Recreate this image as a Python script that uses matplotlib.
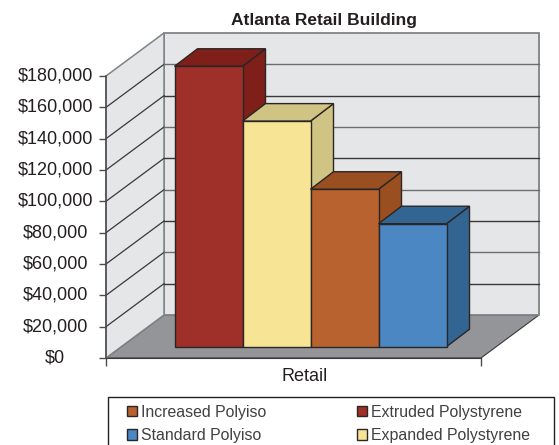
import matplotlib
matplotlib.use("Agg")
import matplotlib.pyplot as plt
from matplotlib.patches import Polygon, Patch, Rectangle
from matplotlib.transforms import ScaledTranslation

plt.rcParams['font.family'] = ['Liberation Sans', 'DejaVu Sans']

# values
series = ['Extruded Polystyrene', 'Expanded Polystyrene', 'Increased Polyiso', 'Standard Polyiso']
values = [179000, 144000, 100500, 78500]
front_colors = ['#9E2F29', '#F7E595', '#B8632F', '#4A87C3']
side_colors = ['#7E1F1A', '#CFC483', '#9A4F20', '#336593']
tick_values = list(range(0, 200000, 20000))
tick_labels = ['$' + format(v, ',') for v in tick_values]
category = 'Retail'

W, H = 559, 445
fig = plt.figure(figsize=(W / 100, H / 100), dpi=100)
# axes sits on the front plane of the 3d box
ax = fig.add_axes([106 / W, 1 - 358 / H, 375 / W, 282 / H])
ax.set_xlim(0, 375)
ax.set_ylim(0, 180000)
ax.patch.set_alpha(0)

unit = 180000 / 282  # value per pixel
wall_dx, wall_dy = 58, 43 * unit
bar_dx, bar_dy = 23, 17.5 * unit
bar_x0, bar_w = 68.5, 68
bar_base = 11.3 * unit

wall_col = '#E5E6E8'
edge_col = '#808285'
dark = '#3A3839'
top = 180000

# floor and walls
ax.add_patch(Polygon([(0, 0), (375, 0), (375 + wall_dx, wall_dy), (wall_dx, wall_dy)],
                     fc='#939598', ec='#3A3839', lw=0.8, clip_on=False, zorder=1))
ax.add_patch(Polygon([(wall_dx, wall_dy), (375 + wall_dx, wall_dy), (375 + wall_dx, top + wall_dy), (wall_dx, top + wall_dy)],
                     fc=wall_col, ec=edge_col, lw=1.3, clip_on=False, zorder=1))
ax.add_patch(Polygon([(0, 0), (wall_dx, wall_dy), (wall_dx, top + wall_dy), (0, top)],
                     fc=wall_col, ec=edge_col, lw=1.1, clip_on=False, zorder=1))

# gridlines on both walls, every other one on the back wall prints lighter
for i, v in enumerate(tick_values[1:-1]):
    ax.plot([0, wall_dx], [v, v + wall_dy], color=dark, lw=0.9, clip_on=False, zorder=2)
    back_col = '#6D6E71' if i % 2 == 1 else dark
    ax.plot([wall_dx, 375 + wall_dx], [v + wall_dy, v + wall_dy], color=back_col, lw=1,
            clip_on=False, zorder=2)

# bars
for i, (val, fc, sc) in enumerate(zip(values, front_colors, side_colors)):
    x0 = bar_x0 + i * bar_w
    x1 = x0 + bar_w
    y0 = bar_base
    y1 = val + bar_base
    ec = '#2B2526'
    ax.add_patch(Polygon([(x1, y0), (x1 + bar_dx, y0 + bar_dy), (x1 + bar_dx, y1 + bar_dy), (x1, y1)],
                         fc=sc, ec=ec, lw=1, clip_on=False, zorder=3 + i))
    ax.add_patch(Polygon([(x0, y1), (x1, y1), (x1 + bar_dx, y1 + bar_dy), (x0 + bar_dx, y1 + bar_dy)],
                         fc=sc, ec=ec, lw=1, clip_on=False, zorder=3 + i))
    ax.add_patch(Polygon([(x0, y0), (x1, y0), (x1, y1), (x0, y1)],
                         fc=fc, ec=ec, lw=1, clip_on=False, zorder=3 + i))

# axes
for s in ['top', 'right']:
    ax.spines[s].set_visible(False)
ax.spines['left'].set_color('#4D4D4F')
ax.spines['left'].set_linewidth(1.1)
ax.spines['bottom'].set_color(dark)
ax.spines['bottom'].set_zorder(2)
ax.set_yticks(tick_values)
ax.set_yticklabels(tick_labels, fontsize=13, color='#231F20', ha='center')
ax.tick_params(axis='y', length=5, width=1, color='#4D4D4F', pad=31.5)
# labels are centred on each other and sit a bit above the ticks
for lab in ax.get_yticklabels():
    lab.set_transform(lab.get_transform() + ScaledTranslation(0, 2 / 100, fig.dpi_scale_trans))
ax.set_xticks([0, 375])
ax.set_xticklabels(['', ''])
ax.set_xticks([199], minor=True)
ax.set_xticklabels([category], minor=True, fontsize=13, color='#231F20')
ax.tick_params(axis='x', which='major', length=6, width=1, color='#4D4D4F')
ax.tick_params(axis='x', which='minor', length=0, pad=7)

fig.text(324 / W, 1 - 20 / H, 'Atlanta Retail Building', fontsize=12.5, fontweight='bold',
         color='#231F20', ha='center', va='center')

# legend box runs off the bottom of the picture
fig.add_artist(Rectangle((108 / W, -0.02), 446 / W, 1 - 397.5 / H + 0.02, transform=fig.transFigure,
                         fc='white', ec='#231F20', lw=1))
legend_order = [2, 3, 0, 1]
handles = [Patch(fc=front_colors[i], ec='#2B2526', lw=1) for i in legend_order]
labels = [series[i] for i in legend_order]
leg = fig.legend(handles, labels, ncol=2, loc='upper left',
                 bbox_to_anchor=(127 / W, 1 - 404.5 / H), fontsize=11.4,
                 handlelength=0.65, handleheight=0.65, handletextpad=0.25,
                 labelspacing=0.55, borderaxespad=0, borderpad=0, frameon=False, columnspacing=5.7)
for t in leg.get_texts():
    t.set_color('#414042')

fig.savefig('out.png', dpi=100)
